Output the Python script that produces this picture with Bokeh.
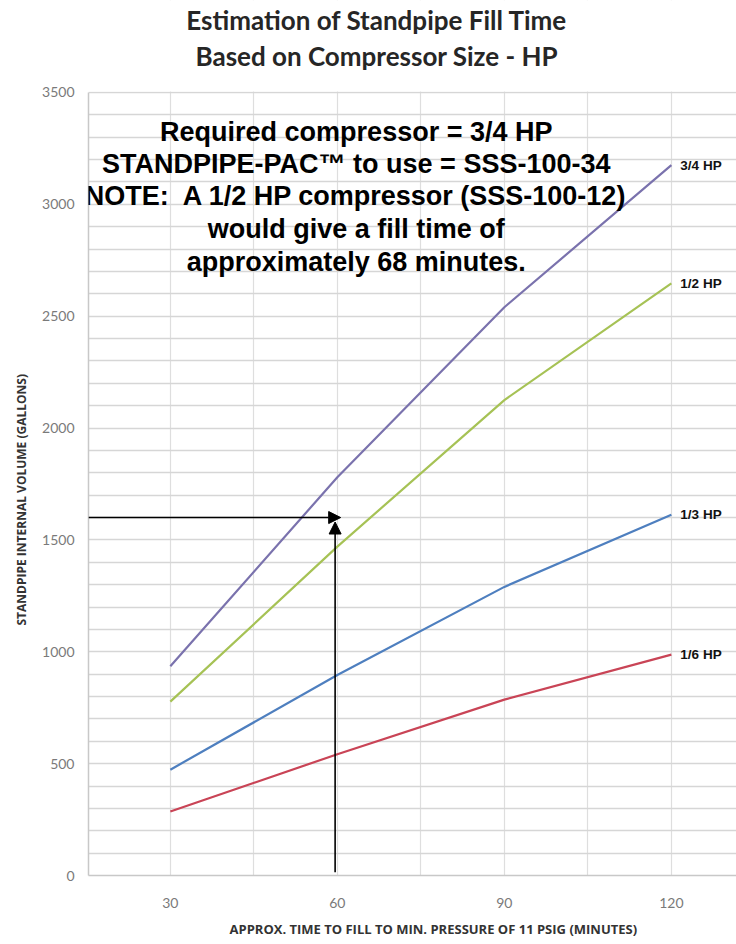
from bokeh.plotting import figure
from bokeh.models import (Range1d, Label, Arrow, NormalHead, FixedTicker,
                          SingleIntervalTicker, BoxAnnotation, Title)
from bokeh.embed import file_html
from bokeh.resources import INLINE

minutes = [30, 60, 90, 120]
hp_34 = [935, 1780, 2540, 3175]
hp_12 = [777, 1470, 2125, 2647]
hp_13 = [473, 896, 1290, 1612]
hp_16 = [286, 542, 786, 987]
series_names = ["3/4 HP", "1/2 HP", "1/3 HP", "1/6 HP"]
series_colors = ["#7a72ad", "#a6c255", "#4e7fbf", "#c94456"]
x_ticks = [30, 60, 90, 120]
y_ticks = [0, 500, 1000, 1500, 2000, 2500, 3000, 3500]
y_max = 3500

required_volume = 1600
required_minutes = 60

title_lines = ["Estimation of Standpipe Fill Time", "Based on Compressor Size - HP"]
title_y = [3822, 3661]
title_x = 67.1

x_label = "APPROX. TIME TO FILL TO MIN. PRESSURE OF 11 PSIG (MINUTES)"
y_label = "STANDPIPE INTERNAL VOLUME (GALLONS)"

note_lines = [
    "Required compressor = 3/4 HP",
    "STANDPIPE-PAC\u2122 to use = SSS-100-34",
    "NOTE:\u00a0 A 1/2 HP compressor (SSS-100-12)",
    "would give a fill time of",
    "approximately 68 minutes.",
]
note_y = [3325, 3180, 3035, 2890, 2744]
note_x = 63.4

p = figure(width=736, height=944, output_backend="svg", toolbar_location=None,
           x_range=Range1d(15.3, 131.7), y_range=Range1d(0, 3911),
           min_border_left=88, min_border_right=0, min_border_top=0,
           min_border_bottom=69)
p.outline_line_color = None
p.background_fill_color = "white"
p.border_fill_color = "white"

# axes
p.xaxis.ticker = FixedTicker(ticks=x_ticks)
p.yaxis.ticker = FixedTicker(ticks=y_ticks)
p.yaxis.bounds = (0, y_max)
for ax in (p.xaxis[0], p.yaxis[0]):
    ax.major_tick_line_color = None
    ax.minor_tick_line_color = None
    ax.axis_line_color = "#c8c8c8"
    ax.axis_line_width = 1.5
    ax.major_label_text_color = "#7a7a7a"
    ax.major_label_text_font = "Lato"
    ax.major_label_text_font_size = "14px"
p.xaxis.major_label_standoff = 16
p.yaxis.major_label_standoff = 8

# axis titles
p.add_layout(Title(text=x_label, align="left", offset=141, standoff=14,
                   text_font="Open Sans", text_font_style="bold",
                   text_font_size="13px", text_color="#333333"), "below")
p.add_layout(Title(text=y_label, align="left", offset=250, standoff=20,
                   text_font="Open Sans", text_font_style="bold",
                   text_font_size="12px", text_color="#333333"), "left")

# grids
p.xgrid.ticker = SingleIntervalTicker(interval=15)
p.ygrid.ticker = SingleIntervalTicker(interval=100)
p.ygrid.bounds = (0, y_max)
p.xgrid.grid_line_color = "#dedede"
p.ygrid.grid_line_color = "#d6d6d6"
p.xgrid.grid_line_width = 1.2
p.ygrid.grid_line_width = 1.5

# white band above the plotting area (title zone)
p.add_layout(BoxAnnotation(bottom=y_max + 4, fill_color="white", fill_alpha=1.0,
                           line_color=None, level="underlay"))

for ys, color, name in zip([hp_34, hp_12, hp_13, hp_16], series_colors, series_names):
    p.line(minutes, ys, line_color=color, line_width=2.2)
    p.add_layout(Label(x=minutes[-1], y=ys[-1], text=name, x_offset=9,
                       text_baseline="middle", text_align="left",
                       text_font="Liberation Sans", text_font_style="bold",
                       text_font_size="13.5px", text_color="#111111"))

for line, y in zip(note_lines, note_y):
    p.add_layout(Label(x=note_x, y=y, text=line, text_align="center",
                       text_baseline="alphabetic", text_font="Liberation Sans",
                       text_font_style="bold", text_font_size="27px",
                       text_color="#000000"))

for line, y in zip(title_lines, title_y):
    p.add_layout(Label(x=title_x, y=y, text=line, text_align="center",
                       text_baseline="middle", text_font="Lato",
                       text_font_style="bold", text_font_size="26px",
                       text_color="#262626"))

# arrows
p.add_layout(Arrow(end=NormalHead(size=12, fill_color="black", line_color="black"),
                   x_start=15.3, y_start=required_volume,
                   x_end=required_minutes + 0.6, y_end=required_volume,
                   line_color="black", line_width=1.6))
p.add_layout(Arrow(end=NormalHead(size=12, fill_color="black", line_color="black"),
                   x_start=required_minutes - 0.4, y_start=15,
                   x_end=required_minutes - 0.4, y_end=required_volume - 20,
                   line_color="black", line_width=1.6))

open("out.html", "w").write(file_html(p, INLINE))
